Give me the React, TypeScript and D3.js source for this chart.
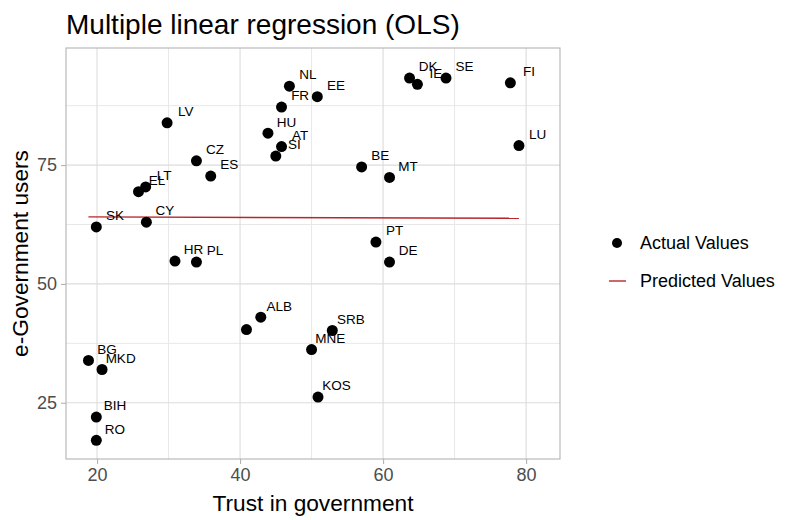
import React, { useEffect, useRef } from "react";
import * as d3 from "d3";

// countries with trust in government (x) and share of e-government users (y)
const countries = [
  "NL", "FR", "EE", "LV", "HU", "AT", "SI", "CZ", "ES", "EL", "LT", "SK", "CY",
  "DK", "IE", "SE", "FI", "LU", "BE", "MT", "PT", "DE", "SRB", "MNE", "KOS",
  "HR", "PL", "ALB", "", "BG", "MKD", "BIH", "RO",
];
const trust = [
  46.9, 45.8, 50.8, 29.8, 43.9, 45.8, 45.0, 33.9, 35.9, 25.8, 26.8, 19.9, 26.9,
  63.7, 64.8, 68.8, 77.8, 79.0, 57.0, 60.9, 59.0, 60.9, 52.9, 50.0, 50.9,
  30.9, 33.9, 42.9, 40.9, 18.8, 20.7, 19.9, 19.9,
];
const users = [
  91.6, 87.2, 89.4, 83.9, 81.7, 78.9, 76.9, 75.9, 72.7, 69.4, 70.4, 62.0, 63.0,
  93.3, 92.0, 93.3, 92.3, 79.1, 74.6, 72.4, 58.8, 54.6, 40.2, 36.2, 26.2,
  54.8, 54.6, 43.0, 40.4, 33.9, 32.0, 22.0, 17.1,
];
// fitted values from the model, ordered by trust
const predTrust = [18.8, 79.0];
const predValues = [64.1, 63.8];

const xTicks = [20, 40, 60, 80];
const yTicks = [25, 50, 75];

// label nudge in data units (geom_text nudge_x / nudge_y)
const nudgeX = 2.6;
const nudgeY = 2.4;

const W = 789;
const H = 520;
const FONT = "'Liberation Sans', Arial, sans-serif";
const RED = "#B8262B";

const App = () => {
  const svgRef = useRef(null);

  useEffect(() => {
    const svg = d3.select(svgRef.current);
    svg.selectAll("*").remove();

    const margin = { top: 48, right: 229, bottom: 61, left: 66 };
    const innerW = W - margin.left - margin.right;
    const innerH = H - margin.top - margin.bottom;

    // scales trained on points and nudged labels, plus 5% expansion
    const xs = trust.concat(trust.map((d) => d + nudgeX));
    const ys = users.concat(users.map((d) => d + nudgeY));
    const [x0, x1] = d3.extent(xs);
    const [y0, y1] = d3.extent(ys);
    const xPad = (x1 - x0) * 0.05;
    const yPad = (y1 - y0) * 0.05;

    const x = d3.scaleLinear().domain([x0 - xPad, x1 + xPad]).range([0, innerW]);
    const y = d3.scaleLinear().domain([y0 - yPad, y1 + yPad]).range([innerH, 0]);

    const g = svg
      .append("g")
      .attr("transform", `translate(${margin.left},${margin.top})`);

    // minor grid
    const xMinor = xTicks.slice(0, -1).map((d, i) => (d + xTicks[i + 1]) / 2);
    const yMinor = yTicks.slice(0, -1).map((d, i) => (d + yTicks[i + 1]) / 2);
    yMinor.push(yTicks[yTicks.length - 1] + 12.5);

    g.selectAll(".xminor")
      .data(xMinor)
      .join("line")
      .attr("x1", (d) => x(d))
      .attr("x2", (d) => x(d))
      .attr("y1", 0)
      .attr("y2", innerH)
      .attr("stroke", "#E8E8E8")
      .attr("stroke-width", 1);
    g.selectAll(".yminor")
      .data(yMinor)
      .join("line")
      .attr("x1", 0)
      .attr("x2", innerW)
      .attr("y1", (d) => y(d))
      .attr("y2", (d) => y(d))
      .attr("stroke", "#E8E8E8")
      .attr("stroke-width", 1);

    // major grid
    g.selectAll(".xmajor")
      .data(xTicks)
      .join("line")
      .attr("x1", (d) => x(d))
      .attr("x2", (d) => x(d))
      .attr("y1", 0)
      .attr("y2", innerH)
      .attr("stroke", "#DCDCDC")
      .attr("stroke-width", 1.1);
    g.selectAll(".ymajor")
      .data(yTicks)
      .join("line")
      .attr("x1", 0)
      .attr("x2", innerW)
      .attr("y1", (d) => y(d))
      .attr("y2", (d) => y(d))
      .attr("stroke", "#DCDCDC")
      .attr("stroke-width", 1.1);

    // predicted line
    const line = d3
      .line()
      .x((d) => x(d[0]))
      .y((d) => y(d[1]));
    g.append("path")
      .datum(predTrust.map((d, i) => [d, predValues[i]]))
      .attr("fill", "none")
      .attr("stroke", RED)
      .attr("stroke-width", 1.4)
      .attr("d", line);

    // points
    g.selectAll(".pt")
      .data(trust)
      .join("circle")
      .attr("cx", (d) => x(d))
      .attr("cy", (_, i) => y(users[i]))
      .attr("r", 5.5)
      .attr("fill", "#000");

    // labels
    g.selectAll(".lbl")
      .data(countries)
      .join("text")
      .attr("x", (_, i) => x(trust[i] + nudgeX))
      .attr("y", (_, i) => y(users[i] + nudgeY))
      .attr("text-anchor", "middle")
      .attr("dy", "0.35em")
      .attr("font-family", FONT)
      .attr("font-size", 13.5)
      .attr("fill", "#000")
      .text((d) => d);

    // panel border
    g.append("rect")
      .attr("width", innerW)
      .attr("height", innerH)
      .attr("fill", "none")
      .attr("stroke", "#B3B3B3")
      .attr("stroke-width", 1.1);

    // axes
    const xAxis = g
      .append("g")
      .attr("transform", `translate(0,${innerH})`)
      .call(d3.axisBottom(x).tickValues(xTicks).tickSize(5).tickPadding(4));
    const yAxis = g
      .append("g")
      .call(d3.axisLeft(y).tickValues(yTicks).tickSize(5).tickPadding(4));
    [xAxis, yAxis].forEach((a) => {
      a.select(".domain").remove();
      a.selectAll(".tick line").attr("stroke", "#B3B3B3").attr("stroke-width", 1.1);
      a.selectAll("text")
        .attr("font-family", FONT)
        .attr("font-size", 18)
        .attr("fill", "#4D4D4D");
    });

    // axis titles
    svg
      .append("text")
      .attr("x", margin.left + innerW / 2)
      .attr("y", 511)
      .attr("text-anchor", "middle")
      .attr("font-family", FONT)
      .attr("font-size", 22.7)
      .attr("fill", "#000")
      .text("Trust in government");
    svg
      .append("text")
      .attr("transform", `translate(28,${margin.top + innerH / 2}) rotate(-90)`)
      .attr("text-anchor", "middle")
      .attr("font-family", FONT)
      .attr("font-size", 22.7)
      .attr("fill", "#000")
      .text("e-Government users");

    // title
    svg
      .append("text")
      .attr("x", 66)
      .attr("y", 34)
      .attr("font-family", FONT)
      .attr("font-size", 28)
      .attr("fill", "#000")
      .text("Multiple linear regression (OLS)");

    // legend
    const lg = svg.append("g").attr("transform", "translate(605,243)");
    lg.append("circle").attr("cx", 12).attr("cy", 0).attr("r", 5).attr("fill", "#000");
    lg.append("line")
      .attr("x1", 4)
      .attr("x2", 21)
      .attr("y1", 38)
      .attr("y2", 38)
      .attr("stroke", RED)
      .attr("stroke-width", 1.4);
    lg.selectAll(".lt")
      .data(["Actual Values", "Predicted Values"])
      .join("text")
      .attr("x", 35)
      .attr("y", (_, i) => i * 38)
      .attr("dy", "0.35em")
      .attr("font-family", FONT)
      .attr("font-size", 18)
      .attr("fill", "#000")
      .text((d) => d);
  }, []);

  return (
    <div style={{ width: W, height: H }}>
      <svg ref={svgRef} width={W} height={H} style={{ position: "absolute", left: 0, top: 0 }} />
    </div>
  );
};

export default App;
